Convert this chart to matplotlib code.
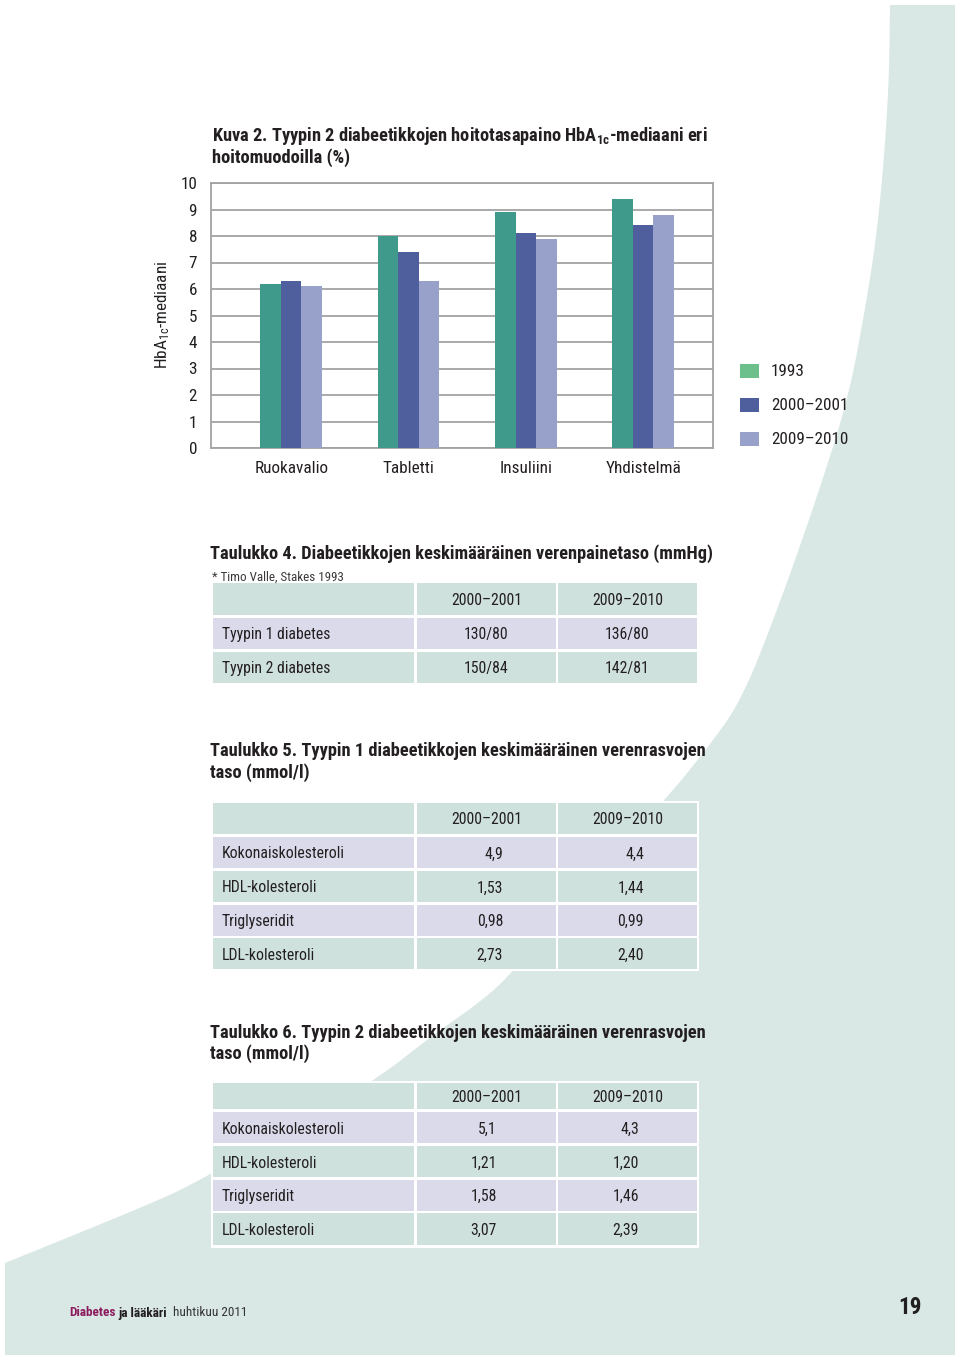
import matplotlib
matplotlib.use('Agg')
import matplotlib.pyplot as plt
from matplotlib import font_manager as fm
from matplotlib.patches import Rectangle, Polygon
import numpy as np

W, H, DPI = 960, 1363, 100

available = {f.name for f in fm.fontManager.ttflist}
def pick(names):
    for n in names:
        if n in available:
            return n
    return 'DejaVu Sans'
FONT = pick(['Roboto Condensed', 'Open Sans Condensed', 'Liberation Sans Narrow', 'Roboto', 'Open Sans'])
plt.rcParams['font.family'] = [FONT, 'DejaVu Sans']
plt.rcParams['mathtext.default'] = 'regular'

# ---------------- data ----------------
categories = ['Ruokavalio', 'Tabletti', 'Insuliini', 'Yhdistelmä']
series_labels = ['1993', '2000–2001', '2009–2010']
hba1c_1993 = [6.2, 8.0, 8.9, 9.4]
hba1c_2000 = [6.3, 7.4, 8.1, 8.4]
hba1c_2009 = [6.1, 6.3, 7.9, 8.8]
yticks = list(range(0, 11))

t4_cols = ['2000–2001', '2009–2010']
t4_rows = ['Tyypin 1 diabetes', 'Tyypin 2 diabetes']
t4_2000 = ['130/80', '150/84']
t4_2009 = ['136/80', '142/81']

lipid_cols = ['2000–2001', '2009–2010']
lipid_rows = ['Kokonaiskolesteroli', 'HDL-kolesteroli', 'Triglyseridit', 'LDL-kolesteroli']
t5_2000 = ['4,9', '1,53', '0,98', '2,73']
t5_2009 = ['4,4', '1,44', '0,99', '2,40']
t6_2000 = ['5,1', '1,21', '1,58', '3,07']
t6_2009 = ['4,3', '1,20', '1,46', '2,39']

# ---------------- styles ----------------
BG_TEAL = '#d9e8e5'
CELL_TEAL = '#cfe1dd'
CELL_LAV = '#dadaeb'
BAR_COLORS = ['#3f9a8c', '#4f5f9d', '#97a1c9']
LEGEND_COLORS = ['#6dbf8c', '#4f5f9d', '#97a1c9']
GRID = '#a3a3a3'
TXT = '#231f20'

fig = plt.figure(figsize=(W / DPI, H / DPI), dpi=DPI)
fig.patch.set_facecolor('white')
renderer = fig.canvas.get_renderer()

# scale font sizes so that the widest title matches the reference width (505 px)
_probe = fig.text(0, 0, 'Taulukko 4. Diabeetikkojen keskimääräinen verenpainetaso (mmHg)',
                  fontsize=12, fontweight='bold')
K = 505.0 / _probe.get_window_extent(renderer=renderer).width
_probe.remove()
_probe = fig.text(0, 0, 'Kokonaiskolesteroli', fontsize=11.5 * K)
KR = 123.0 / _probe.get_window_extent(renderer=renderer).width   # regular text correction
_probe.remove()

bg = fig.add_axes([0, 0, 1, 1])
bg.set_xlim(0, W)
bg.set_ylim(H, 0)
bg.axis('off')
bg.set_zorder(0)

# background shape (smoothed outline)
curve = [(890, 5), (889, 80), (884, 160), (876, 240), (865, 310), (848, 400), (816, 500),
         (781, 600), (742, 700), (706, 750), (665, 800), (590, 880), (512, 973),
         (483, 1000), (433, 1035), (373, 1082), (280, 1135), (200, 1180),
         (160, 1200), (5, 1263)]
pts = np.array(curve, dtype=float)
for _ in range(3):
    q = 0.75 * pts[:-1] + 0.25 * pts[1:]
    r = 0.25 * pts[:-1] + 0.75 * pts[1:]
    new = np.empty((2 * len(q), 2))
    new[0::2], new[1::2] = q, r
    pts = np.vstack([pts[:1], new, pts[-1:]])
poly = [(955, 5)] + [tuple(p) for p in pts] + [(5, 1355), (955, 1355)]
bg.add_patch(Polygon(poly, closed=True, facecolor=BG_TEAL, edgecolor='none', zorder=0))

# ---------------- chart ----------------
ax_l, ax_r, ax_t, ax_b = 211, 713, 183, 448
ax = fig.add_axes([ax_l / W, 1 - ax_b / H, (ax_r - ax_l) / W, (ax_b - ax_t) / H])
ax.set_zorder(2)
ax.set_facecolor('white')
x = np.arange(len(categories))
bw = 0.175
for i, vals in enumerate([hba1c_1993, hba1c_2000, hba1c_2009]):
    ax.bar(x + (i - 1) * bw, vals, width=bw, color=BAR_COLORS[i], zorder=3, linewidth=0)
ax.set_xlim(-0.684, 3.596)
ax.set_ylim(0, 10)
FS_AX = 12.5 * K * KR
ax.set_yticks(yticks)
ax.set_yticklabels([str(t) for t in yticks], fontsize=FS_AX, color=TXT)
ax.set_xticks(x)
ax.set_xticklabels(categories, fontsize=FS_AX, color=TXT)
ax.tick_params(axis='both', length=0)
ax.tick_params(axis='y', pad=10)
ax.tick_params(axis='x', pad=9.5)
ax.yaxis.grid(True, color=GRID, lw=1.3)
ax.set_axisbelow(True)
for s in ax.spines.values():
    s.set_color(GRID)
    s.set_linewidth(1.3)

bg.text(163, 315, 'HbA$_{1c}$-mediaani', rotation=90, ha='center', va='center',
        fontsize=FS_AX, color=TXT)
bg.text(212, 136, 'Kuva 2. Tyypin 2 diabeetikkojen hoitotasapaino HbA$_{1c}$-mediaani eri',
        ha='left', va='center', fontsize=12 * K, fontweight='bold', color=TXT)
bg.text(212, 157.5, 'hoitomuodoilla (%)', ha='left', va='center', fontsize=12 * K,
        fontweight='bold', color=TXT)

# legend
leg_y = [371, 405, 439]
for lab, col, yy in zip(series_labels, LEGEND_COLORS, leg_y):
    bg.add_patch(Rectangle((740, yy - 7), 19, 14, facecolor=col, edgecolor='none', zorder=2))
    bg.text(771, yy, lab, ha='left', va='center', fontsize=FS_AX, color=TXT, zorder=3)

# ---------------- tables ----------------
FS_CELL = 11.5 * K * KR

def draw_table(row_edges, col_edges, header, labels, col_values, value_mode):
    bg.add_patch(Rectangle((col_edges[0] - 1, row_edges[0] - 1),
                           col_edges[-1] - col_edges[0] + 2, row_edges[-1] - row_edges[0] + 2,
                           facecolor='white', edgecolor='none', zorder=1))
    nrows = len(row_edges) - 1
    for r in range(nrows):
        color = CELL_TEAL if r % 2 == 0 else CELL_LAV
        for c in range(len(col_edges) - 1):
            x0, x1 = col_edges[c] + 1.2, col_edges[c + 1] - 1.2
            y0, y1 = row_edges[r] + 1.2, row_edges[r + 1] - 1.2
            bg.add_patch(Rectangle((x0, y0), x1 - x0, y1 - y0, facecolor=color,
                                   edgecolor='none', zorder=2))
    def cy(r):
        return (row_edges[r] + row_edges[r + 1]) / 2 + 1.5
    for c, h in enumerate(header):
        xc = (col_edges[c + 1] + col_edges[c + 2]) / 2
        bg.text(xc, cy(0), h, ha='center', va='center', fontsize=FS_CELL, color=TXT, zorder=3)
    for r, lab in enumerate(labels):
        bg.text(col_edges[0] + 10, cy(r + 1), lab, ha='left', va='center',
                fontsize=FS_CELL, color=TXT, zorder=3)
        for c, vals in enumerate(col_values):
            if value_mode[c][0] == 'center':
                bg.text((col_edges[c + 1] + col_edges[c + 2]) / 2, cy(r + 1), vals[r],
                        ha='center', va='center', fontsize=FS_CELL, color=TXT, zorder=3)
            else:
                bg.text(value_mode[c][1], cy(r + 1), vals[r], ha='right', va='center',
                        fontsize=FS_CELL, color=TXT, zorder=3)

COLS = [212, 415.5, 557, 698]

# Table 4
bg.text(210, 553.5, 'Taulukko 4. Diabeetikkojen keskimääräinen verenpainetaso (mmHg)',
        ha='left', va='center', fontsize=12 * K, fontweight='bold', color=TXT)
bg.text(212, 577, '* Timo Valle, Stakes 1993', ha='left', va='center',
        fontsize=9.5 * K * KR, color='#3a3a3a')
draw_table([582, 616.5, 650.5, 684.5], COLS, t4_cols, t4_rows, [t4_2000, t4_2009],
           [('center', None), ('center', None)])

# Table 5
bg.text(210, 751.5, 'Taulukko 5. Tyypin 1 diabeetikkojen keskimääräinen verenrasvojen',
        ha='left', va='center', fontsize=12 * K, fontweight='bold', color=TXT)
bg.text(210, 772.5, 'taso (mmol/l)', ha='left', va='center', fontsize=12 * K,
        fontweight='bold', color=TXT)
draw_table([801.5, 835.5, 869.5, 903.5, 937, 970], COLS, lipid_cols, lipid_rows,
           [t5_2000, t5_2009], [('right', 503), ('right', 644)])

# Table 6
bg.text(210, 1032.5, 'Taulukko 6. Tyypin 2 diabeetikkojen keskimääräinen verenrasvojen',
        ha='left', va='center', fontsize=12 * K, fontweight='bold', color=TXT)
bg.text(210, 1053.5, 'taso (mmol/l)', ha='left', va='center', fontsize=12 * K,
        fontweight='bold', color=TXT)
draw_table([1082, 1110.5, 1144.5, 1178.5, 1212, 1246.5], COLS, lipid_cols, lipid_rows,
           [t6_2000, t6_2009], [('right', 497), ('right', 639)])

# ---------------- footer ----------------
xpos = 69
parts = [('Diabetes', '#8c1b5e', 'bold', 3), ('ja lääkäri', TXT, 'bold', 6),
         ('huhtikuu 2011', '#333333', 'normal', 0)]
for txt, col, wt, gap in parts:
    t = bg.text(xpos, 1313, txt, ha='left', va='center', fontsize=9.7 * K * KR,
                fontweight=wt, color=col)
    bb = t.get_window_extent(renderer=renderer)
    xpos += bb.width + gap
bg.text(910, 1308, '19', ha='center', va='center', fontsize=17 * K * KR,
        fontweight='semibold', color=TXT)

fig.savefig('out.png', dpi=DPI, facecolor='white')
